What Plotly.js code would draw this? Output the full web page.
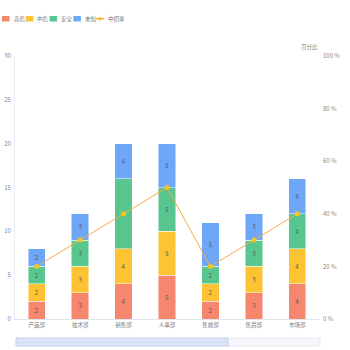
<!DOCTYPE html>
<html><head><meta charset="utf-8">
<script src="https://cdn.plot.ly/plotly-3.0.1.min.js"></script>
<style>html,body{margin:0;padding:0;background:#fff}#c{width:350px;height:350px}</style>
</head><body><div id="c"></div>
<script>
const categories = ["产品部","技术部","销售部","人事部","售前部","售后部","市场部"];
const seriesNames = ["高危","中危","安全","未知"];
const high = [2,3,4,5,2,3,4];
const medium = [2,3,4,5,2,3,4];
const safe = [2,3,8,5,2,3,4];
const unknown = [2,3,4,5,5,3,4];
const rateName = "中招率";
const rate = [20,30,40,50,20,30,40];
const leftTicks = [0,5,10,15,20,25,30];
const rightTicks = [0,20,40,60,80,100];
const rightAxisName = "百分比";

const colors = ["#f6866d","#fec333","#57c78f","#6fa7f8"];
const lineColor = "#f8a94a";
const markerColor = "#f3c623";
const FONT = "Noto Sans CJK SC, Noto Sans, sans-serif";

const W = 350, H = 350, ML = 15, MR = 31, MT = 56, MB = 31;
const PW = W - ML - MR, PH = H - MT - MB;
const px = x => (x - ML) / PW;
const py = y => (H - MB - y) / PH;

const seriesVals = [high, medium, safe, unknown];
const traces = seriesVals.map((v,i)=>({
  type:"bar", x:categories, y:v, name:seriesNames[i],
  marker:{color:colors[i], line:{color:"rgba(255,255,255,0.6)", width:0.8}},
  text:v.map(String), textposition:"inside", insidetextanchor:"middle",
  textfont:{size:6, color:"#555", family:FONT}, width:0.4,
  hoverinfo:"skip", showlegend:false
}));
traces.push({
  type:"scatter", mode:"lines+markers", x:categories, y:rate, yaxis:"y2",
  name:rateName, line:{color:lineColor, width:1},
  marker:{color:markerColor, size:5}, showlegend:false
});

const shapes = [], annotations = [];
seriesNames.forEach((n,i)=>{
  const x0 = 2 + i*23.8;
  shapes.push({type:"rect", xref:"paper", yref:"paper", x0:px(x0), x1:px(x0+7.5),
    y0:py(21.5), y1:py(16), fillcolor:colors[i], line:{width:0}});
  annotations.push({xref:"paper", yref:"paper", x:px(x0+9.5), y:py(18.7),
    xanchor:"left", yanchor:"middle", text:n, showarrow:false,
    font:{size:5.5, color:"#777", family:FONT}});
});
shapes.push({type:"line", xref:"paper", yref:"paper", x0:px(96), x1:px(104),
  y0:py(18.7), y1:py(18.7), line:{color:lineColor, width:1.5}});
shapes.push({type:"circle", xref:"paper", yref:"paper", x0:px(98.2), x1:px(101.8),
  y0:py(20.5), y1:py(16.9), fillcolor:markerColor, line:{width:0}});
annotations.push({xref:"paper", yref:"paper", x:px(105.5), y:py(18.7),
  xanchor:"left", yanchor:"middle", text:rateName, showarrow:false,
  font:{size:5.5, color:"#777", family:FONT}});
annotations.push({xref:"paper", yref:"paper", x:px(320), y:py(47),
  xanchor:"right", yanchor:"middle", text:rightAxisName, showarrow:false,
  font:{size:5.5, color:"#888", family:FONT}});

// data zoom slider decoration
shapes.push({type:"rect", xref:"paper", yref:"paper", x0:px(16), x1:px(320),
  y0:py(346), y1:py(338), fillcolor:"#f4f6fb", line:{color:"#dfe4ef", width:0.8}});
shapes.push({type:"rect", xref:"paper", yref:"paper", x0:px(16), x1:px(228),
  y0:py(346), y1:py(338), fillcolor:"#dce6f8", line:{color:"#bccbee", width:0.8}});
shapes.push({type:"line", xref:"paper", yref:"paper", x0:px(17), x1:px(227),
  y0:py(342.5), y1:py(342.5), line:{color:"#c8d6f4", width:0.8}});

const layout = {
  width:W, height:H, paper_bgcolor:"#fff", plot_bgcolor:"#fff",
  margin:{l:ML, r:MR, t:MT, b:MB},
  barmode:"stack", showlegend:false,
  font:{family:FONT, size:6, color:"#888"},
  xaxis:{showgrid:false, showline:true, linecolor:"#e0e4ec", linewidth:1,
    ticks:"", tickfont:{size:5.5, color:"#777"}, fixedrange:true},
  yaxis:{range:[0,30], tickvals:leftTicks, showgrid:false, zeroline:false,
    showline:true, linecolor:"#e8ebf1", linewidth:1, ticks:"",
    tickfont:{size:6, color:"#888"}, ticklabelstandoff:2},
  yaxis2:{range:[0,100], tickvals:rightTicks, ticktext:rightTicks.map(v=>v+" %"),
    overlaying:"y", side:"right", showgrid:false, zeroline:false, showline:false,
    ticks:"", tickfont:{size:6, color:"#888"}, ticklabelstandoff:3},
  shapes:shapes, annotations:annotations
};
Plotly.newPlot("c", traces, layout, {displayModeBar:false, staticPlot:true});
</script></body></html>
